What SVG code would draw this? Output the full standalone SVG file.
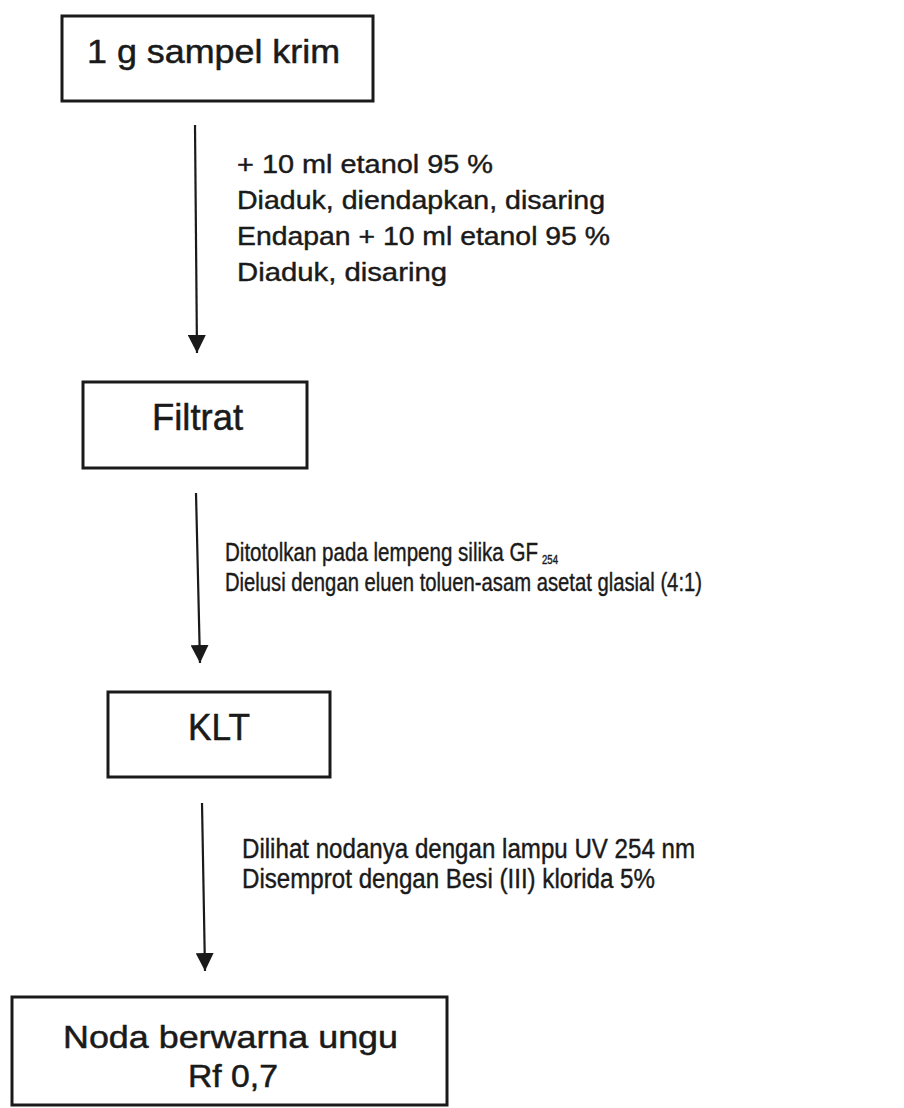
<svg xmlns="http://www.w3.org/2000/svg" width="904" height="1108" viewBox="0 0 904 1108">
  <style>
    .box { fill: #ffffff; stroke: #1a1a1a; stroke-width: 3; }
    .lbl { font-family: "Liberation Sans", Arial, sans-serif; fill: #1a1a1a; stroke: #1a1a1a; stroke-width: 0.5; }
    .note { font-family: "Liberation Sans", Arial, sans-serif; fill: #1a1a1a; stroke: #1a1a1a; stroke-width: 0.4; }
    .conn { stroke: #1a1a1a; stroke-width: 2.2; fill: none; marker-end: url(#arrow); }
  </style>
  <defs>
    <marker id="arrow" markerUnits="userSpaceOnUse" markerWidth="18" markerHeight="18" refX="18" refY="9" orient="auto">
      <path d="M0,0 L18,9 L0,18 Z" fill="#1a1a1a"/>
    </marker>
  </defs>
  <rect width="904" height="1108" fill="#ffffff"/>

  <g id="node-sampel">
    <rect class="box" x="62" y="16" width="311" height="85"/>
    <text class="lbl" x="87" y="63" font-size="34" textLength="253" lengthAdjust="spacingAndGlyphs">1 g sampel krim</text>
  </g>

  <g id="node-filtrat">
    <rect class="box" x="83" y="382" width="224" height="86"/>
    <text class="lbl" x="152" y="430" font-size="36" textLength="91" lengthAdjust="spacingAndGlyphs">Filtrat</text>
  </g>

  <g id="node-klt">
    <rect class="box" x="108" y="692" width="222" height="85"/>
    <text class="lbl" x="188" y="740" font-size="36" textLength="62" lengthAdjust="spacingAndGlyphs">KLT</text>
  </g>

  <g id="node-noda">
    <rect class="box" x="12" y="997" width="435" height="108"/>
    <text class="lbl" x="63" y="1048" font-size="32" textLength="335" lengthAdjust="spacingAndGlyphs">Noda berwarna ungu</text>
    <text class="lbl" x="188" y="1087" font-size="31" textLength="90" lengthAdjust="spacingAndGlyphs">Rf 0,7</text>
  </g>

  <g id="connectors">
    <line class="conn" x1="195" y1="125" x2="197" y2="353"/>
    <line class="conn" x1="196" y1="493" x2="200" y2="663"/>
    <line class="conn" x1="202" y1="803" x2="205" y2="971"/>
  </g>

  <g id="notes">
    <text class="note" x="237" y="173" font-size="25" textLength="256" lengthAdjust="spacingAndGlyphs">+ 10 ml etanol 95 %</text>
    <text class="note" x="237" y="209" font-size="25" textLength="368" lengthAdjust="spacingAndGlyphs">Diaduk, diendapkan, disaring</text>
    <text class="note" x="237" y="245" font-size="25" textLength="373" lengthAdjust="spacingAndGlyphs">Endapan + 10 ml etanol 95 %</text>
    <text class="note" x="237" y="281" font-size="25" textLength="210" lengthAdjust="spacingAndGlyphs">Diaduk, disaring</text>

    <text class="note" x="225" y="561" font-size="25" textLength="313" lengthAdjust="spacingAndGlyphs">Ditotolkan pada lempeng silika GF</text>
    <text class="note" x="542" y="564" font-size="12" stroke-width="0.2" textLength="16" lengthAdjust="spacingAndGlyphs">254</text>
    <text class="note" x="225" y="591" font-size="25" textLength="477" lengthAdjust="spacingAndGlyphs">Dielusi dengan eluen toluen-asam asetat glasial (4:1)</text>

    <text class="note" x="242" y="858" font-size="27" textLength="453" lengthAdjust="spacingAndGlyphs">Dilihat nodanya dengan lampu UV 254 nm</text>
    <text class="note" x="242" y="888" font-size="27" textLength="413" lengthAdjust="spacingAndGlyphs">Disemprot dengan Besi (III) klorida 5%</text>
  </g>
</svg>
